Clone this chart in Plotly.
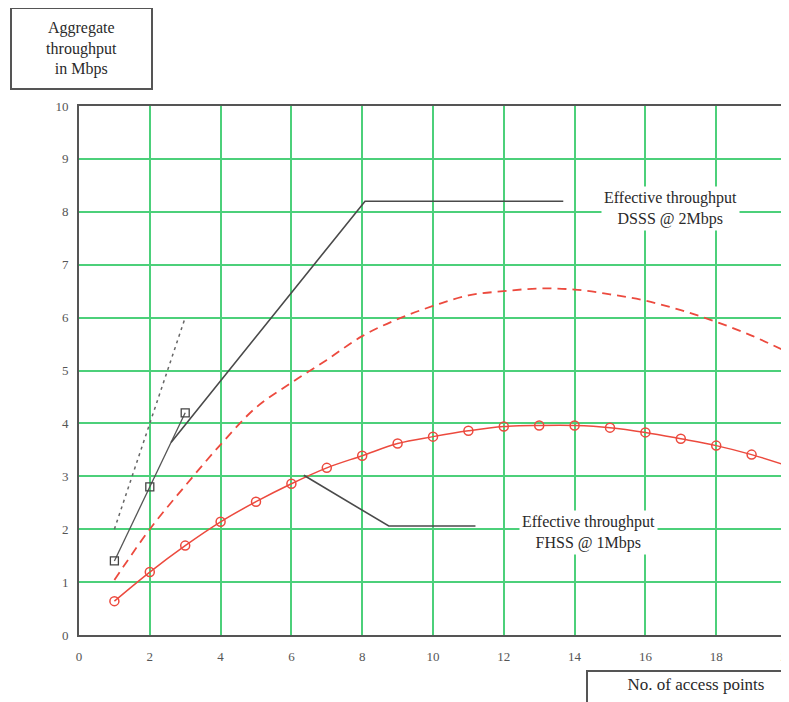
import plotly.graph_objects as go

# ---- data ----
access_points = list(range(1, 21))
fhss_effective = [0.64, 1.19, 1.69, 2.14, 2.52, 2.86, 3.16, 3.39, 3.62, 3.75,
                  3.86, 3.94, 3.96, 3.96, 3.92, 3.83, 3.71, 3.58, 3.41, 3.20]
dsss_effective = [1.04, 2.00, 2.82, 3.60, 4.30, 4.77, 5.20, 5.65, 5.97, 6.22,
                  6.42, 6.50, 6.55, 6.53, 6.44, 6.32, 6.14, 5.92, 5.66, 5.35]
square_x = [1, 2, 3]
square_y = [1.4, 2.8, 4.2]
dotted_x = [1, 2, 3]
dotted_y = [2.0, 4.0, 6.0]
dsss_leader_x = [2.6, 8.08, 13.68]
dsss_leader_y = [3.64, 8.2, 8.2]
fhss_leader_x = [6.35, 8.75, 11.2]
fhss_leader_y = [3.02, 2.06, 2.06]
x_ticks = list(range(0, 21, 2))
y_ticks = list(range(0, 11))

SERIF = "Liberation Serif"
RED = "#ec4a3e"
DARK = "#4a4a4a"
GREEN = "#4cd07a"

fig = go.Figure()

fig.add_trace(go.Scatter(x=dotted_x, y=dotted_y, mode="lines",
                         line=dict(color="#666666", width=1.5, dash="3px,4px")))
fig.add_trace(go.Scatter(x=access_points, y=dsss_effective, mode="lines",
                         line=dict(color=RED, width=1.8, dash="9px,6px", shape="spline")))
fig.add_trace(go.Scatter(x=access_points, y=fhss_effective, mode="lines+markers",
                         line=dict(color=RED, width=1.5, shape="spline"),
                         marker=dict(symbol="circle-open", size=9, color=RED,
                                     line=dict(width=1.5))))
fig.add_trace(go.Scatter(x=square_x, y=square_y, mode="lines+markers",
                         line=dict(color="#555555", width=1.3),
                         marker=dict(symbol="square-open", size=8, color="#444444",
                                     line=dict(width=1.3))))
fig.add_trace(go.Scatter(x=dsss_leader_x, y=dsss_leader_y, mode="lines",
                         line=dict(color=DARK, width=1.6)))
fig.add_trace(go.Scatter(x=fhss_leader_x, y=fhss_leader_y, mode="lines",
                         line=dict(color=DARK, width=1.6)))

label_font = dict(family=SERIF, size=16, color="#2a2a2a")

fig.add_annotation(x=16.7, y=8.07, xref="x", yref="y",
                   text="Effective throughput<br>DSSS @ 2Mbps",
                   showarrow=False, bgcolor="white", font=label_font, borderpad=2)
fig.add_annotation(x=14.38, y=1.93, xref="x", yref="y",
                   text="Effective throughput<br>FHSS @ 1Mbps",
                   showarrow=False, bgcolor="white", font=label_font, borderpad=2)

# axis title boxes (paper coords relative to plot area: x 79..787 px, y 106..635 px on page)
fig.add_annotation(x=(81 - 79) / 708, y=(635 - 48) / 529, xref="paper", yref="paper",
                   text="Aggregate<br>throughput<br>in Mbps", showarrow=False,
                   xanchor="center", yanchor="middle",
                   width=137, height=77, bgcolor="white",
                   bordercolor="#555555", borderwidth=2,
                   font=dict(family=SERIF, size=16, color="#2a2a2a"))
fig.add_annotation(x=(586 - 79) / 708, y=(635 - 670) / 529, xref="paper", yref="paper",
                   text="No. of access points", showarrow=False,
                   xanchor="left", yanchor="top", valign="top",
                   width=210, height=36, borderpad=3, bgcolor="white",
                   bordercolor="#555555", borderwidth=2,
                   font=dict(family=SERIF, size=17, color="#2a2a2a"))

# page body has an 8px margin, so the figure is sized/offset to compensate
fig.update_layout(
    width=781, height=694,
    margin=dict(l=71, r=2, t=98, b=67, autoexpand=False),
    plot_bgcolor="white", paper_bgcolor="white",
    showlegend=False,
    xaxis=dict(range=[0, 20], tickvals=x_ticks, showgrid=True, gridcolor=GREEN,
               gridwidth=2, zeroline=False, showline=True, linecolor="#555555",
               linewidth=2, mirror=True, ticks="", ticklabelstandoff=8,
               automargin=False, ticklabeloverflow="allow",
               tickfont=dict(family=SERIF, size=13, color="#555555")),
    yaxis=dict(range=[0, 10], tickvals=y_ticks, showgrid=True, gridcolor=GREEN,
               gridwidth=2, zeroline=False, showline=True, linecolor="#555555",
               linewidth=2, mirror=True, ticks="", ticklabelstandoff=6,
               automargin=False, ticklabeloverflow="allow",
               tickfont=dict(family=SERIF, size=13, color="#555555")),
)

fig.write_html("out.html")
